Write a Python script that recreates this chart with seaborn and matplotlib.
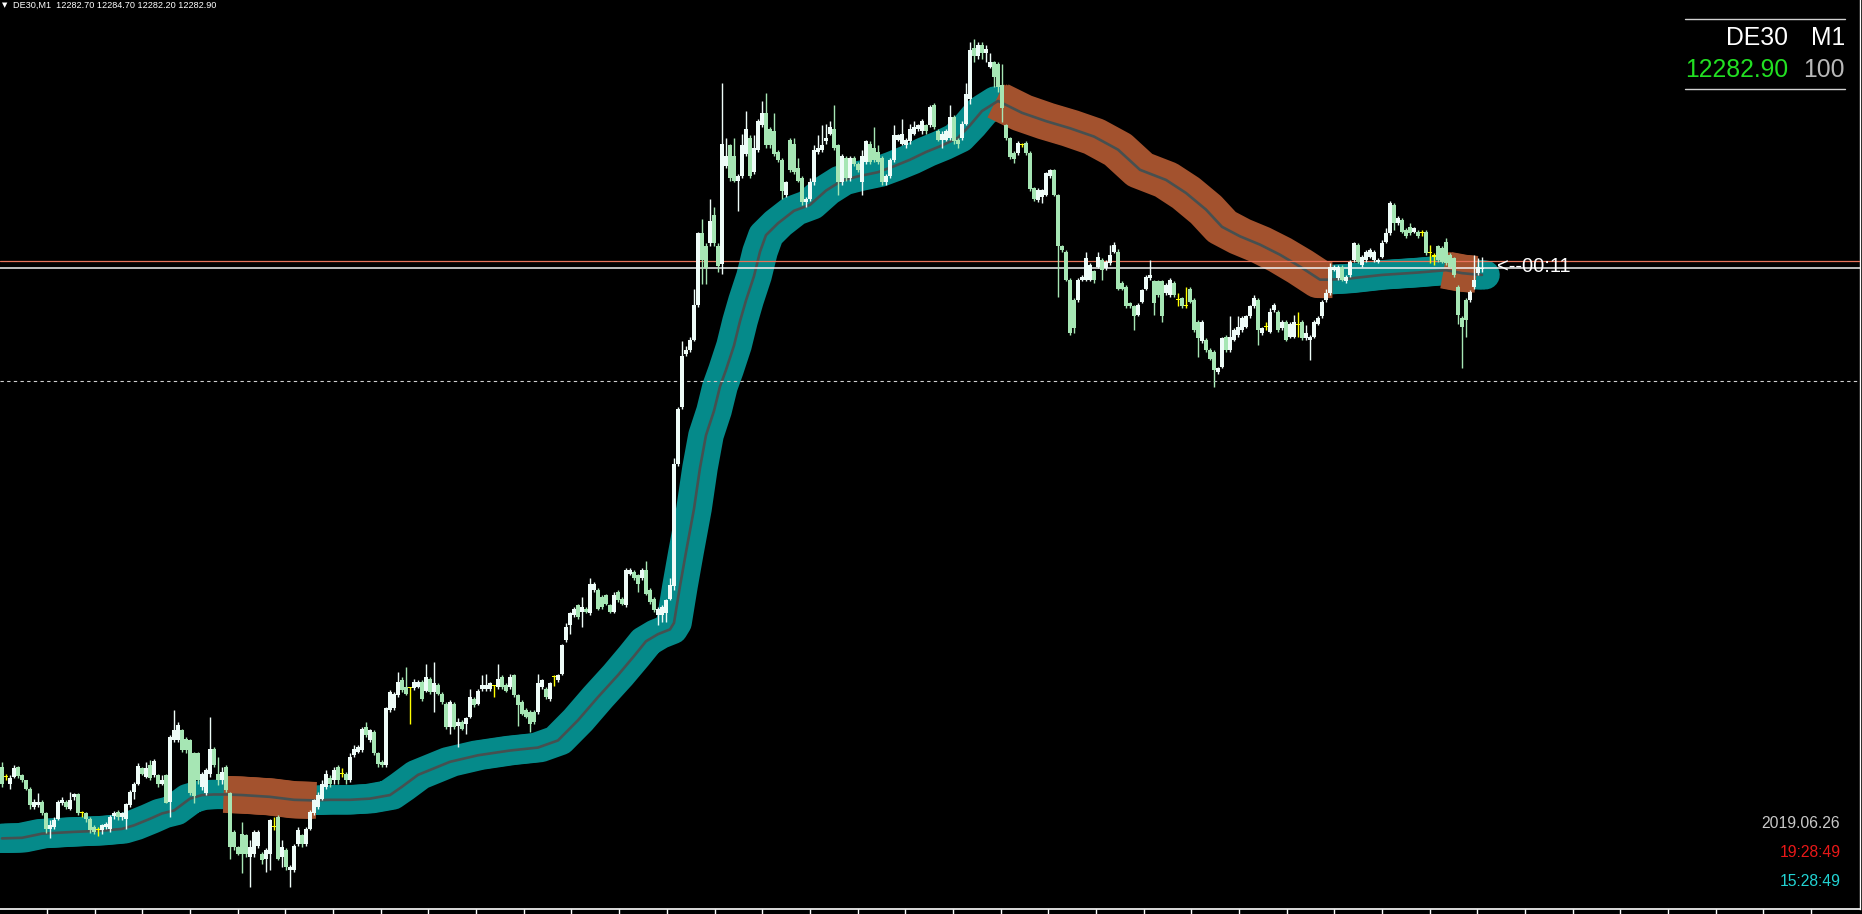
import numpy as np
import matplotlib.pyplot as plt
import seaborn as sns

# DE30 M1 candles, prices stored as points above base
base = 12178.0

opens = [
    20.8, 19.2, 18.0, 19.2, 20.8, 19.4, 18.6, 17.2, 14.1, 14.4,
    14.9, 13.1, 10.4, 10.7, 12.1, 14.7, 14.9, 13.8, 15.8, 16.2,
    13.0, 13.1, 12.1, 10.7, 10.2, 10.2, 10.7, 10.3, 12.5, 13.3,
    12.4, 12.1, 14.4, 16.6, 18.0, 20.6, 19.2, 21.1, 19.4, 19.4,
    17.9, 19.4, 14.9, 25.3, 25.3, 27.0, 25.6, 25.3, 23.1, 23.1,
    17.5, 16.4, 19.7, 23.9, 19.7, 18.6, 20.8, 16.4, 9.9, 7.4,
    9.6, 9.3, 5.7, 6.2, 7.6, 6.2, 5.4, 6.2, 10.7, 12.4,
    5.7, 6.8, 3.4, 3.5, 7.9, 9.3, 7.9, 10.4, 13.0, 14.1,
    15.5, 17.5, 18.9, 18.6, 20.8, 19.7, 19.7, 18.6, 22.8, 23.4,
    23.7, 27.6, 25.3, 26.7, 23.1, 21.7, 21.1, 30.4, 30.7, 32.9,
    35.5, 34.3, 34.1, 34.1, 34.3, 35.1, 33.7, 35.7, 33.5, 34.6,
    33.2, 31.5, 27.6, 31.5, 27.8, 28.4, 28.0, 29.2, 32.3, 31.5,
    34.0, 34.0, 34.0, 34.5, 34.3, 36.0, 34.6, 34.3, 36.3, 32.9,
    31.8, 30.4, 30.1, 30.1, 30.1, 34.3, 34.0, 32.3, 36.0, 35.4,
    36.5, 42.2, 44.7, 46.4, 48.1, 46.9, 47.5, 46.7, 50.6, 50.6,
    49.5, 49.8, 48.1, 46.9, 50.3, 49.2, 48.1, 53.4, 53.7, 53.1,
    52.6, 54.0, 50.6, 49.2, 46.4, 46.4, 46.7, 49.2, 51.3, 71.9,
    81.5, 90.4, 91.1, 92.8, 98.7, 110.7, 108.6, 109.0, 113.8, 108.6,
    105.6, 122.0, 125.5, 123.8, 119.6, 120.3, 124.1, 126.8, 121.0, 124.8,
    128.9, 131.0, 128.2, 127.9, 124.4, 123.1, 117.2, 126.5, 125.8, 121.7,
    120.0, 115.9, 116.5, 119.3, 124.4, 124.8, 126.2, 127.5, 128.2, 125.5,
    119.3, 123.4, 120.0, 123.4, 122.4, 119.3, 122.7, 125.8, 125.1, 124.4,
    123.4, 119.3, 120.3, 123.1, 126.5, 125.8, 125.5, 126.2, 127.5, 128.2,
    127.9, 128.9, 128.9, 132.3, 127.9, 126.5, 126.5, 126.8, 130.3, 126.5,
    126.8, 129.2, 133.4, 142.0, 140.5, 142.5, 141.0, 138.8, 139.6, 139.3,
    135.7, 128.9, 126.7, 124.2, 124.2, 125.6, 125.9, 124.2, 118.3, 116.3,
    116.9, 117.2, 120.3, 121.4, 117.2, 108.5, 107.6, 102.9, 99.5, 99.5,
    102.9, 102.9, 102.9, 104.3, 105.1, 106.2, 104.8, 105.7, 107.6, 107.6,
    102.3, 101.7, 98.9, 98.4, 97.0, 99.2, 101.4, 103.1, 102.6, 102.6,
    102.6, 100.6, 100.3, 102.3, 99.5, 99.8, 98.4, 101.4, 99.5, 95.8,
    92.5, 92.7, 91.1, 90.8, 87.4, 88.2, 93.3, 91.1, 92.7, 93.6,
    94.4, 95.0, 96.7, 98.4, 99.5, 93.9, 95.0, 94.1, 97.8, 97.5,
    94.7, 95.8, 93.3, 93.3, 95.3, 95.8, 93.0, 92.7, 93.3, 95.5,
    96.7, 99.5, 100.6, 104.5, 103.1, 105.1, 102.6, 103.7, 106.2, 108.8,
    105.4, 106.2, 106.8, 106.2, 105.9, 106.8, 109.3, 110.7, 115.5, 112.4,
    113.0, 111.3, 111.8, 111.0, 111.0, 110.7, 111.0, 107.4, 106.8, 108.5,
    108.2, 109.3, 107.1, 106.5, 101.7, 96.4, 99.5, 99.5, 101.7, 104.0,
    104.7,
]

closes = [
    18.0, 19.2, 19.0, 20.6, 19.3, 18.6, 17.2, 14.4, 14.9, 14.9,
    13.1, 10.4, 11.1, 11.9, 14.9, 15.2, 14.1, 15.3, 16.2, 13.0,
    13.0, 12.1, 10.2, 9.9, 10.2, 11.0, 11.3, 12.4, 13.0, 12.4,
    13.0, 14.6, 16.6, 17.9, 21.0, 19.7, 20.6, 18.9, 21.9, 17.9,
    18.7, 14.8, 25.8, 27.0, 27.9, 23.7, 23.7, 16.4, 15.9, 18.6,
    19.7, 20.3, 23.9, 21.1, 18.6, 20.0, 16.9, 7.4, 7.4, 6.2,
    6.2, 6.2, 7.4, 9.9, 9.9, 5.1, 6.8, 11.9, 10.7, 5.4,
    7.4, 4.0, 4.0, 7.6, 10.2, 7.8, 10.4, 13.3, 15.2, 16.1,
    18.0, 19.7, 18.0, 20.3, 18.6, 19.7, 18.6, 22.5, 23.9, 24.2,
    27.3, 26.2, 27.0, 23.1, 21.4, 21.1, 30.7, 33.5, 33.2, 35.2,
    33.8, 33.2, 34.1, 35.2, 35.2, 32.3, 36.0, 33.5, 34.9, 33.2,
    31.8, 27.6, 31.8, 27.6, 28.4, 27.3, 29.0, 32.6, 31.2, 33.7,
    34.6, 34.6, 34.9, 34.5, 35.7, 34.3, 33.7, 36.0, 32.9, 31.2,
    29.8, 29.2, 28.1, 28.4, 34.9, 35.4, 32.6, 34.9, 36.0, 36.3,
    41.3, 44.4, 46.7, 47.5, 46.1, 47.8, 46.9, 51.7, 51.7, 47.5,
    47.8, 48.3, 46.9, 49.8, 48.9, 48.3, 54.0, 54.0, 52.6, 51.7,
    54.0, 50.0, 48.6, 47.2, 47.5, 47.8, 48.9, 51.4, 71.9, 81.2,
    90.1, 91.1, 92.8, 98.7, 110.7, 106.2, 104.9, 112.8, 109.0, 105.2,
    125.8, 123.8, 120.0, 119.6, 120.3, 125.5, 128.2, 120.3, 125.1, 129.6,
    131.0, 125.5, 125.5, 124.1, 123.1, 117.9, 119.3, 121.3, 121.0, 119.6,
    115.9, 116.5, 119.3, 124.8, 125.1, 125.5, 126.8, 128.6, 125.1, 119.3,
    123.8, 120.0, 123.4, 122.4, 121.3, 123.8, 126.2, 122.7, 123.1, 122.7,
    119.3, 120.3, 123.1, 127.2, 127.2, 127.5, 126.5, 128.2, 128.6, 128.9,
    129.6, 127.9, 132.0, 128.6, 126.5, 127.5, 127.9, 130.3, 126.2, 125.8,
    129.2, 134.1, 141.5, 140.5, 142.5, 141.0, 141.8, 139.6, 137.1, 135.4,
    131.8, 126.7, 123.6, 123.3, 125.9, 125.6, 124.2, 118.2, 116.5, 118.0,
    118.0, 120.8, 121.4, 117.2, 108.5, 107.9, 102.9, 93.9, 94.7, 102.9,
    103.4, 106.5, 105.4, 102.9, 106.8, 104.5, 105.9, 107.1, 108.8, 101.4,
    101.4, 98.4, 98.4, 96.7, 98.6, 101.2, 103.4, 103.7, 98.9, 100.3,
    96.7, 102.0, 102.9, 100.3, 99.5, 98.4, 98.4, 99.2, 94.4, 93.0,
    95.8, 91.1, 89.6, 87.7, 88.0, 93.0, 91.1, 93.3, 94.4, 95.0,
    96.4, 96.7, 98.4, 99.8, 94.4, 94.7, 95.0, 97.5, 98.6, 94.4,
    95.8, 92.7, 95.5, 95.8, 95.3, 93.0, 93.9, 93.3, 95.8, 96.4,
    99.2, 100.6, 105.1, 105.1, 105.1, 102.9, 103.4, 105.9, 109.0, 105.9,
    106.8, 107.6, 107.9, 107.6, 106.2, 109.0, 110.7, 115.8, 112.4, 113.3,
    111.0, 110.2, 110.7, 111.6, 110.2, 110.7, 107.4, 107.4, 106.8, 106.2,
    105.9, 105.7, 105.1, 103.7, 97.0, 95.0, 96.1, 100.9, 102.9, 105.1,
    104.9,
]

highs = [
    21.7, 19.7, 19.4, 21.1, 21.0, 19.7, 18.7, 17.5, 15.5, 16.5,
    15.2, 13.3, 11.9, 12.4, 15.3, 15.7, 15.3, 16.6, 16.5, 16.4,
    13.4, 13.3, 12.4, 11.0, 10.8, 11.3, 11.6, 12.7, 13.4, 13.5,
    13.3, 14.8, 16.9, 18.3, 21.5, 20.8, 21.7, 22.0, 22.1, 19.7,
    19.4, 19.7, 26.2, 30.4, 28.4, 27.3, 25.9, 25.6, 23.4, 23.4,
    20.0, 20.6, 29.2, 24.2, 22.5, 20.8, 21.1, 16.6, 10.2, 7.6,
    11.6, 9.6, 8.5, 10.2, 10.2, 6.5, 7.1, 12.1, 12.4, 12.7,
    8.5, 7.1, 4.3, 7.9, 10.7, 9.6, 10.7, 13.5, 15.5, 16.6,
    18.6, 20.3, 19.4, 20.8, 21.1, 20.6, 20.0, 23.1, 24.5, 24.5,
    27.6, 28.4, 27.3, 27.0, 23.4, 22.0, 31.0, 33.8, 33.5, 36.9,
    36.0, 37.7, 34.3, 35.7, 35.5, 35.4, 38.2, 36.0, 38.5, 34.9,
    33.5, 31.8, 32.1, 31.8, 29.0, 28.7, 29.2, 34.0, 32.6, 34.0,
    36.3, 36.5, 35.1, 34.7, 38.2, 36.3, 34.9, 36.5, 36.5, 33.2,
    32.1, 30.7, 30.4, 30.4, 36.5, 35.7, 34.3, 35.1, 36.3, 36.5,
    41.6, 45.0, 46.9, 47.8, 48.3, 49.5, 47.8, 52.6, 52.0, 50.9,
    49.8, 50.0, 48.3, 50.3, 50.6, 49.5, 54.3, 54.3, 54.0, 53.4,
    54.3, 55.6, 50.9, 49.5, 47.8, 48.1, 49.2, 52.6, 72.9, 81.5,
    92.5, 91.8, 93.2, 101.4, 111.0, 113.1, 109.0, 116.5, 115.2, 109.0,
    136.1, 126.8, 125.8, 126.8, 120.7, 127.5, 131.3, 127.2, 127.2, 129.9,
    133.0, 134.4, 128.6, 131.0, 124.8, 123.4, 119.6, 126.8, 126.8, 123.4,
    120.3, 116.9, 120.0, 125.5, 127.2, 128.9, 129.2, 129.6, 132.3, 125.8,
    124.1, 123.8, 123.8, 123.8, 122.7, 124.8, 126.5, 126.2, 128.6, 125.5,
    123.8, 120.7, 123.4, 128.9, 127.5, 129.9, 126.8, 129.2, 129.6, 129.2,
    129.9, 129.2, 132.3, 132.7, 128.2, 127.9, 128.2, 132.3, 130.6, 126.8,
    129.6, 136.1, 143.0, 143.5, 143.0, 143.0, 142.5, 141.0, 139.8, 139.6,
    139.3, 129.2, 127.0, 124.5, 126.2, 126.0, 126.2, 124.5, 118.5, 118.3,
    118.2, 121.0, 121.6, 121.6, 117.4, 108.8, 107.9, 103.1, 99.8, 103.1,
    103.7, 107.6, 105.7, 104.5, 107.6, 106.5, 106.2, 108.8, 109.3, 108.0,
    102.6, 102.0, 99.2, 98.6, 98.9, 101.4, 103.7, 106.2, 102.9, 102.9,
    102.9, 102.3, 103.1, 102.6, 100.6, 100.0, 101.7, 101.7, 99.8, 96.1,
    96.1, 93.0, 91.4, 91.1, 88.2, 93.3, 93.6, 96.7, 94.7, 96.7,
    96.7, 97.0, 98.6, 100.3, 99.8, 95.0, 95.8, 98.1, 98.9, 97.8,
    96.1, 96.1, 95.8, 97.0, 97.5, 96.1, 95.3, 93.6, 96.1, 96.7,
    99.5, 101.4, 105.7, 105.4, 105.4, 105.4, 103.7, 106.2, 109.3, 109.0,
    107.1, 107.9, 108.2, 107.9, 106.5, 109.6, 111.6, 116.1, 115.8, 113.6,
    113.3, 111.6, 112.4, 111.8, 111.3, 111.3, 111.3, 108.8, 107.4, 108.8,
    108.5, 109.9, 107.4, 106.8, 102.0, 96.7, 99.8, 101.2, 107.1, 106.5,
    106.7,
]

lows = [
    17.5, 18.6, 17.2, 19.0, 19.0, 18.3, 16.9, 13.8, 13.7, 14.1,
    12.7, 9.7, 8.9, 10.4, 11.9, 14.4, 13.8, 13.5, 15.3, 12.7,
    12.4, 11.6, 9.7, 9.5, 9.2, 9.6, 10.3, 9.9, 12.1, 11.9,
    11.9, 10.4, 14.1, 15.5, 17.8, 19.4, 18.9, 18.6, 19.2, 17.5,
    17.8, 14.7, 12.4, 25.1, 25.1, 23.4, 23.1, 16.1, 14.7, 18.0,
    16.9, 16.1, 19.2, 20.8, 17.8, 18.0, 16.6, 5.4, 6.8, 6.0,
    2.9, 5.7, 0.6, 5.7, 7.1, 4.5, 3.1, 3.4, 10.2, 5.1,
    4.0, 3.4, 0.6, 3.1, 7.6, 7.4, 7.6, 10.2, 12.7, 13.8,
    15.2, 17.2, 17.5, 18.0, 18.0, 19.2, 18.0, 18.3, 22.5, 23.1,
    23.4, 25.9, 25.1, 22.8, 20.8, 20.8, 20.8, 30.1, 30.4, 32.6,
    33.5, 32.9, 28.1, 33.8, 34.1, 32.0, 33.5, 33.2, 30.1, 32.9,
    31.5, 27.3, 26.4, 27.3, 24.2, 27.0, 26.4, 29.0, 30.9, 31.2,
    33.7, 33.7, 33.7, 32.6, 34.0, 34.0, 33.5, 34.0, 32.6, 27.8,
    29.5, 29.0, 26.7, 28.1, 29.8, 34.0, 32.3, 32.0, 34.5, 35.1,
    36.3, 41.9, 43.3, 46.1, 45.8, 44.4, 46.7, 46.4, 50.3, 47.2,
    47.5, 48.1, 46.7, 46.7, 48.6, 48.1, 47.8, 53.1, 52.3, 50.3,
    52.3, 49.8, 48.3, 46.9, 44.7, 45.3, 45.3, 48.9, 50.6, 71.5,
    81.2, 90.1, 90.8, 92.5, 98.3, 102.1, 102.1, 108.6, 108.6, 104.2,
    103.8, 121.7, 119.6, 119.3, 114.5, 120.0, 123.8, 120.0, 120.7, 124.4,
    128.6, 125.1, 125.1, 123.8, 122.7, 116.5, 116.9, 121.0, 120.7, 119.3,
    115.5, 115.2, 116.2, 118.9, 124.1, 124.4, 125.8, 127.2, 124.8, 117.2,
    118.9, 119.6, 119.6, 122.0, 121.0, 117.2, 122.4, 122.4, 122.7, 122.4,
    118.9, 118.9, 120.0, 122.7, 126.2, 125.5, 125.1, 125.8, 127.2, 127.9,
    127.5, 127.5, 128.6, 128.2, 126.2, 125.1, 126.2, 126.5, 125.8, 125.1,
    126.5, 128.9, 132.5, 139.5, 140.0, 140.0, 139.5, 138.5, 135.4, 134.5,
    129.5, 126.4, 123.3, 122.5, 123.9, 125.2, 123.9, 117.8, 116.2, 116.0,
    115.8, 117.0, 120.0, 117.0, 100.0, 107.6, 102.6, 93.6, 93.9, 99.2,
    102.6, 102.6, 102.6, 102.3, 104.8, 102.9, 104.5, 105.4, 107.4, 101.2,
    101.2, 98.1, 98.1, 94.4, 96.7, 99.0, 101.2, 102.9, 97.0, 100.0,
    95.8, 100.3, 100.0, 100.0, 98.4, 98.1, 98.1, 99.0, 94.1, 89.9,
    92.2, 90.8, 89.4, 84.9, 87.0, 88.0, 90.8, 90.8, 92.5, 93.3,
    94.1, 94.7, 96.4, 98.1, 91.9, 93.6, 94.4, 93.9, 97.5, 94.1,
    94.4, 92.5, 93.0, 93.0, 93.3, 92.7, 92.7, 89.4, 93.0, 95.3,
    96.4, 99.2, 100.3, 104.3, 102.9, 102.6, 102.3, 103.4, 105.9, 105.7,
    105.1, 105.9, 106.5, 105.9, 105.7, 106.5, 109.0, 110.4, 111.3, 112.1,
    110.7, 109.9, 110.4, 110.7, 109.9, 110.2, 107.1, 105.7, 105.4, 105.9,
    105.7, 105.4, 104.8, 103.4, 95.5, 88.0, 93.3, 99.2, 101.4, 103.7,
    104.2,
]

# moving average band (bar index, points above base)
band_x = [0, 5, 10, 18, 25, 30, 33, 37, 40, 43, 47, 50, 53, 56, 60, 67, 73, 78, 82, 87,
          92, 97, 100, 104, 112, 119, 127, 134, 139, 144, 149, 154, 158, 161, 164, 167,
          168, 169.5, 171, 173, 174.5, 176, 178, 179.5, 181, 183, 184.5, 186, 188, 189.5,
          191, 194, 198, 202, 206, 210, 214, 219, 223, 227, 231, 235, 239, 242, 245, 249,
          255, 261, 267, 273, 279, 284.5, 291, 296, 301, 305, 309.5, 314.5, 319.5, 324.5,
          329.5, 332, 337, 345, 354, 361, 365, 368, 370]
band_pts = [8.8, 8.9, 9.6, 9.9, 10.1, 10.4, 11.0, 12.1, 13.0, 13.5, 15.5, 16.1, 16.2, 16.2,
            16.1, 15.8, 15.3, 15.2, 15.3, 15.3, 15.5, 16.1, 17.5, 19.5, 21.7, 22.8, 23.6,
            24.1, 25.3, 28.7, 32.6, 36.3, 39.5, 42.0, 43.2, 44.0, 45.1, 51.3, 57.0, 64.3,
            71.2, 76.7, 80.8, 84.9, 87.7, 91.8, 95.9, 99.4, 103.5, 107.6, 110.4, 112.4,
            114.5, 115.5, 117.9, 119.6, 120.3, 121.0, 122.0, 123.1, 124.4, 125.5, 126.8,
            128.9, 131.3, 133.0, 131.0, 129.6, 128.4, 127.0, 124.8, 121.4, 119.7, 117.5,
            114.7, 111.8, 110.2, 108.8, 107.1, 105.1, 102.9, 102.9, 103.1, 103.7, 104.1,
            104.5, 104.0, 103.8, 103.7]
down_runs = [(56, 78), (249, 332), (361, 368)]

bid = 12282.9
ask = 12284.1
level = 12263.8

sns.set_theme(style="dark")
plt.rcParams["font.family"] = ["Liberation Sans", "DejaVu Sans"]

W, H = 1862, 914
fig = plt.figure(figsize=(W / 100, H / 100), dpi=100, facecolor="black")
ax = fig.add_axes([0, 5 / H, 1860 / W, 909 / H])
ax.set_facecolor("black")

o = base + np.array(opens)
c = base + np.array(closes)
h = base + np.array(highs)
l = base + np.array(lows)
idx = np.arange(len(o))

bx = np.array(band_x)
band = base + np.array(band_pts)

# band: teal everywhere (wide pen), sienna where the average is falling
for dx in (-0.8, 0.0, 0.8):
    sns.lineplot(x=bx + dx, y=band, ax=ax, color="#058a8a", linewidth=21,
                 solid_capstyle="round", zorder=2)
for a, b in down_runs:
    m = (bx >= a) & (bx <= b)
    for dx in (-0.6, 0.0, 0.6):
        sns.lineplot(x=bx[m] + dx, y=band[m], ax=ax, color="#a3522e", linewidth=26.5,
                     solid_capstyle="butt", zorder=3)
sns.lineplot(x=bx, y=band, ax=ax, color="#465050", linewidth=1.9, zorder=4)

ax.axhline(ask, color="#e8735a", lw=0.9, zorder=5)
ax.axhline(bid, color="#f2f2f2", lw=1.1, zorder=5)
ax.axhline(level, color="#d0d0d0", lw=0.8, ls=(0, (3, 3)), zorder=5)

# candles
cols = np.where(c > o, "#eefcf8", np.where(c < o, "#a6e6b4", "#ffff00"))
ax.vlines(idx, l, h, colors=cols, lw=1.0, zorder=6)
body = np.maximum(np.abs(c - o), 0.17)
ax.bar(idx, body, bottom=np.minimum(o, c), width=0.8, color=cols, lw=0, zorder=7)

ax.set_xlim(-0.5, 464.5)
ax.set_ylim(base - 3.09, base + 150)
ax.grid(False)
for s in ["top", "left"]:
    ax.spines[s].set_visible(False)
ax.spines["bottom"].set_color("white")
ax.spines["bottom"].set_linewidth(1.2)
ax.spines["right"].set_color("white")
ax.spines["right"].set_linewidth(1)
ax.set_xticks(np.arange(11.25, 464, 11.92))
ax.set_yticks([])
ax.tick_params(axis="x", colors="white", length=4, width=1, direction="out",
               labelbottom=False, bottom=True)


def ftxt(x, y, s, **kw):
    fig.text(x / W, 1 - y / H, s, **kw)


ftxt(2, 5.5, "\u25bc", color="white", fontsize=5, va="center", family="DejaVu Sans")
ftxt(13, 5.5, "DE30,M1  12282.70 12284.70 12282.20 12282.90", color="white",
     fontsize=6.6, va="center")

# symbol panel
for yy in (19, 89.3):
    fig.add_artist(plt.Line2D([1685 / W, 1845 / W], [1 - yy / H, 1 - yy / H],
                              transform=fig.transFigure, color="#d0d0d0", lw=1))
ftxt(1788, 45, "DE30", color="white", fontsize=17.8, ha="right", va="baseline")
ftxt(1845, 45, "M1", color="white", fontsize=17.8, ha="right", va="baseline")
ftxt(1788, 76.7, "12282.90", color="#22e022", fontsize=17.8, ha="right", va="baseline")
ftxt(1845, 76.7, "100", color="#b8b8b8", fontsize=17.8, ha="right", va="baseline")

ftxt(1497, 272, "<--00:11", color="white", fontsize=14.5, va="baseline")

ftxt(1840, 828.3, "2019.06.26", color="#c8c8c8", fontsize=11.3, ha="right", va="baseline")
ftxt(1841, 857.3, "19:28:49", color="#e81818", fontsize=11.3, ha="right", va="baseline")
ftxt(1841, 885.5, "15:28:49", color="#22d2d2", fontsize=11.3, ha="right", va="baseline")

fig.savefig("out.png", dpi=100, facecolor="black")
